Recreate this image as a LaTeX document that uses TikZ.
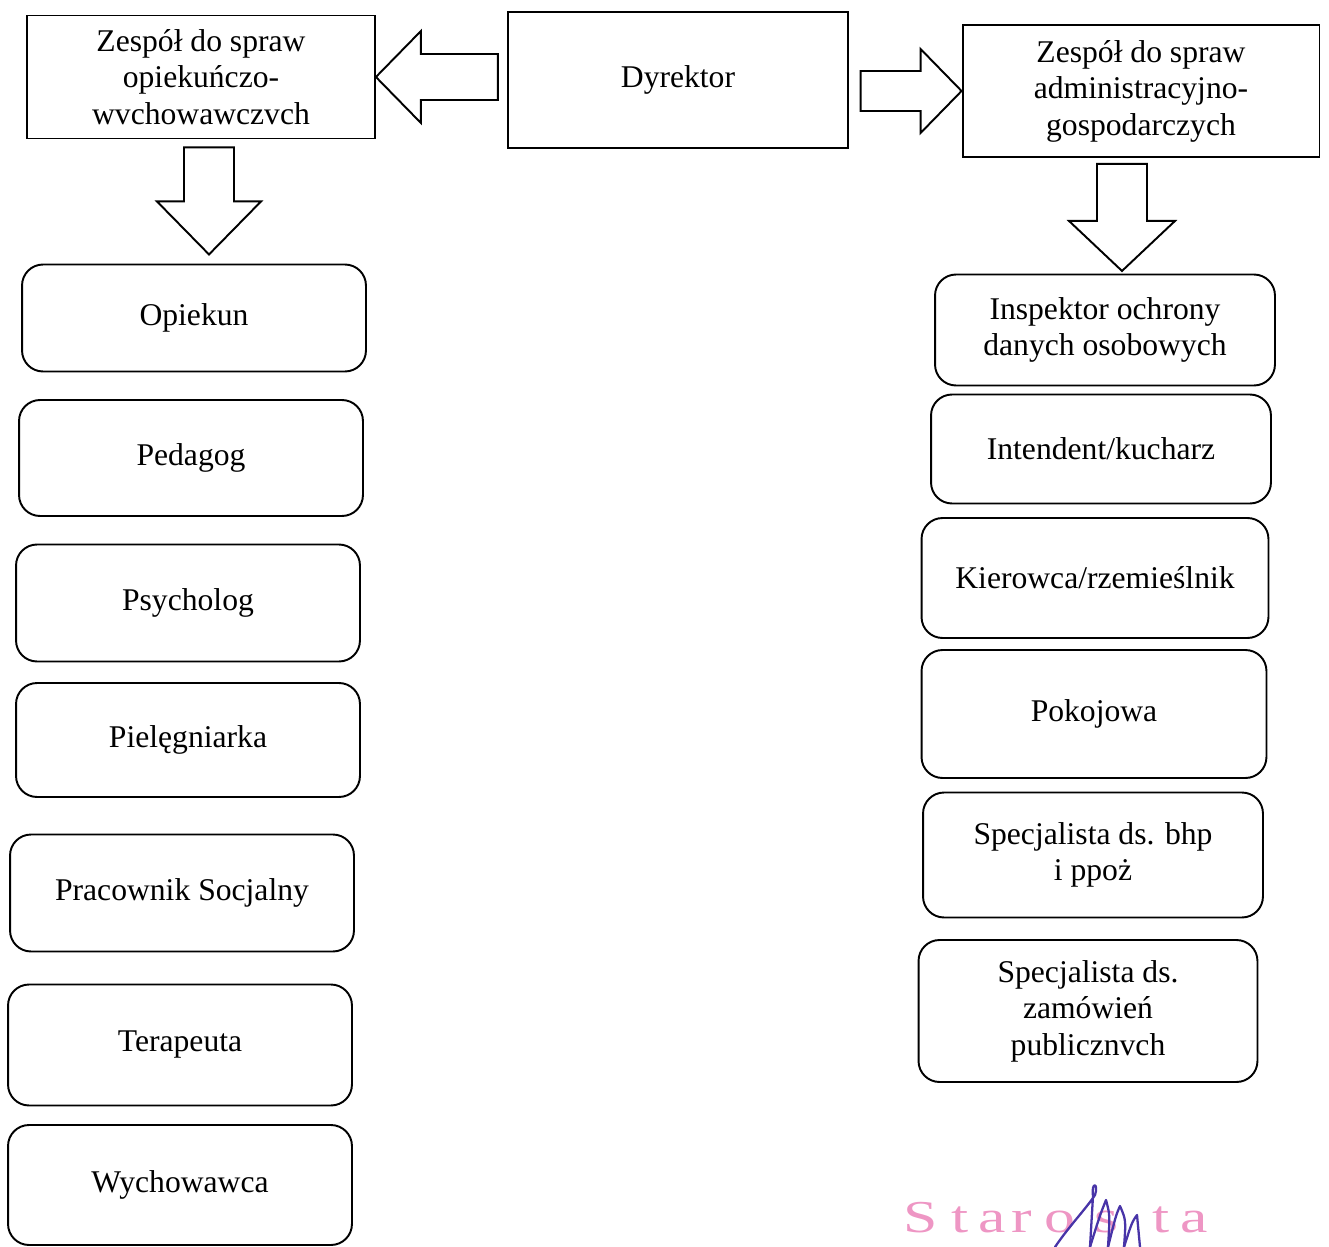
\documentclass[tikz,border=0pt]{standalone}
\usepackage{fontspec}
\setmainfont{Liberation Serif}
\usetikzlibrary{calc}
\definecolor{stamppink}{RGB}{238,150,196}
\definecolor{inkblue}{RGB}{72,52,168}

\begin{document}
\begin{tikzpicture}[x=0.02cm,y=-0.02cm,
  font=\fontsize{18}{20.8}\selectfont,
  topbox/.style={draw,line width=1.1pt,align=center,inner sep=0pt},
  rbox/.style={draw,line width=1.1pt,rounded corners=0.42cm,align=center,inner sep=0pt},
  barrow/.style={draw,line width=1.1pt,fill=white,line join=miter},
  stamp/.style={text=stamppink,font=\fontsize{26}{26}\selectfont,anchor=base,inner sep=0pt},
  sign/.style={draw=inkblue,line width=1.3pt,line cap=round,line join=round}]
\useasboundingbox (0,0) rectangle (1329,1247);

\node[topbox,minimum width=6.96cm,minimum height=2.46cm] (zop) at (201,77) {Zespół do spraw\\opiekuńczo-\\wvchowawczvch};
\node[topbox,minimum width=6.8cm,minimum height=2.72cm] (dyr) at (678,80) {Dyrektor};
\node[topbox,minimum width=7.14cm,minimum height=2.64cm] (zad) at (1141,91) {Zespół do spraw\\administracyjno-\\gospodarczych};

\node[rbox,minimum width=6.88cm,minimum height=2.14cm] (opiekun) at (194,318) {Opiekun};
\node[rbox,minimum width=6.88cm,minimum height=2.32cm] (pedagog) at (191,458) {Pedagog};
\node[rbox,minimum width=6.88cm,minimum height=2.34cm] (psycholog) at (188,603) {Psycholog};
\node[rbox,minimum width=6.88cm,minimum height=2.28cm] (pielegniarka) at (188,740) {Pielęgniarka};
\node[rbox,minimum width=6.88cm,minimum height=2.34cm] (pracownik) at (182,893) {Pracownik Socjalny};
\node[rbox,minimum width=6.88cm,minimum height=2.42cm] (terapeuta) at (180,1045) {Terapeuta};
\node[rbox,minimum width=6.88cm,minimum height=2.4cm] (wychowawca) at (180,1185) {Wychowawca};

\node[rbox,minimum width=6.8cm,minimum height=2.22cm] (inspektor) at (1105,330) {Inspektor ochrony\\danych osobowych};
\node[rbox,minimum width=6.8cm,minimum height=2.18cm] (intendent) at (1101,449) {Intendent/kucharz};
\node[rbox,minimum width=6.94cm,minimum height=2.4cm] (kierowca) at (1095,578) {Kierowca/rzemieślnik};
\node[rbox,minimum width=6.9cm,minimum height=2.56cm] (pokojowa) at (1094,714) {Pokojowa};
\node[rbox,minimum width=6.8cm,minimum height=2.5cm] (bhp) at (1093,855) {Specjalista ds. bhp\\i ppoż};
\node[rbox,minimum width=6.78cm,minimum height=2.84cm] (zamowienia) at (1088,1011) {Specjalista ds.\\zamówień\\publicznvch};

\draw[barrow] (zop.east) -- ++(45,-46) -- ++(0,23) -- ++(77,0) -- ++(0,46) -- ++(-77,0) -- ++(0,23) -- cycle;
\draw[barrow] (zad.west) -- ++(-41,-42) -- ++(0,22) -- ++(-60,0) -- ++(0,40) -- ++(60,0) -- ++(0,22) -- cycle;
\draw[barrow] ($(zop.south)+(-17,8)$) -- ++(50,0) -- ++(0,54) -- ++(27,0) -- ++(-52,53) -- ++(-52,-53) -- ++(27,0) -- cycle;
\draw[barrow] ($(zad.south)+(-44,6)$) -- ++(50,0) -- ++(0,57) -- ++(28,0) -- ++(-53,50) -- ++(-53,-50) -- ++(28,0) -- cycle;

\foreach \ch/\xx [count=\i] in {S/921,t/960,a/992,r/1022,o/1060,s/1106,t/1161,a/1194}
  \node[stamp] (stamp\i) at (\xx,1232) {\scalebox{1.35}[1]{\ch}};

\draw[sign] (1055,1247) .. controls (1070,1225) and (1085,1210) .. (1095,1195) .. controls (1099,1183) and (1091,1181) .. (1093,1196) -- (1090,1247);
\draw[sign] (1090,1247) .. controls (1100,1215) .. (1106,1200) .. controls (1110,1215) .. (1108,1247);
\draw[sign] (1108,1247) .. controls (1116,1215) .. (1120,1206) .. controls (1126,1220) .. (1124,1247);
\draw[sign] (1124,1247) .. controls (1132,1222) .. (1137,1215) -- (1140,1247);
\end{tikzpicture}
\end{document}
